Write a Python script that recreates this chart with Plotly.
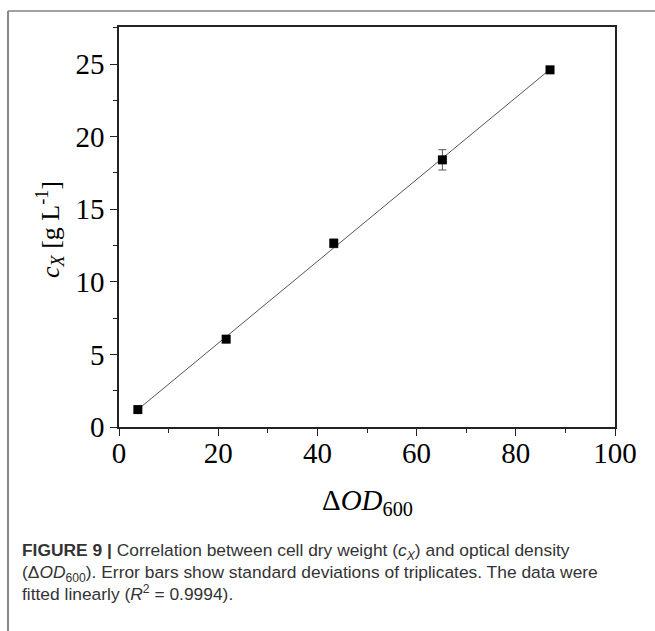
import numpy as np
import plotly.graph_objects as go

# Optical density vs. cell dry weight (triplicate means and standard deviations)
delta_od600 = [3.8, 21.6, 43.3, 65.2, 86.9]
cell_dry_weight = [1.2, 6.05, 12.65, 18.4, 24.6]
cdw_std = [0.15, 0.15, 0.3, 0.7, 0.2]

x_ticks = [0, 20, 40, 60, 80, 100]
y_ticks = [0, 5, 10, 15, 20, 25]

caption_lines = [
    "<b>FIGURE 9 |</b> Correlation between cell dry weight (<i>c</i><sub><i>X</i></sub>) and optical density",
    "(Δ<i>OD</i><sub>600</sub>). Error bars show standard deviations of triplicates. The data were",
    "fitted linearly (<i>R</i><sup>2</sup> = 0.9994).",
]

# Linear fit through the measurements
slope, intercept = np.polyfit(delta_od600, cell_dry_weight, 1)
fit_x = np.array([min(delta_od600), max(delta_od600)])
fit_y = slope * fit_x + intercept

serif = "Liberation Serif"
sans = "Liberation Sans"

fig = go.Figure()

fig.add_trace(go.Scatter(
    x=fit_x, y=fit_y, mode="lines",
    line=dict(color="#555555", width=1),
    hoverinfo="skip", showlegend=False,
))

fig.add_trace(go.Scatter(
    x=delta_od600, y=cell_dry_weight, mode="markers",
    marker=dict(symbol="square", size=9, color="black"),
    error_y=dict(type="data", array=cdw_std, visible=True,
                 color="#555555", thickness=1, width=4),
    showlegend=False,
))

axis_common = dict(
    showgrid=False, zeroline=False,
    showline=True, linecolor="#222222", linewidth=1.6, mirror=True,
    ticks="outside", ticklen=7, tickwidth=1.4, tickcolor="#222222",
    tickfont=dict(family=serif, size=29, color="black"),
)

fig.update_xaxes(
    range=[0, 100], tickvals=x_ticks, ticklabelstandoff=-8,
    minor=dict(ticks="outside", ticklen=4, tickwidth=1.4, tickcolor="#222222", dtick=10),
    **axis_common,
)
fig.update_yaxes(
    range=[0, 27.55], tickvals=y_ticks,
    minor=dict(ticks="outside", ticklen=4, tickwidth=1.4, tickcolor="#222222", dtick=2.5),
    **axis_common,
)

L, T, R, B = 119, 27, 615, 427
W, H = 655, 631
pw, ph = R - L, B - T


def px(x):
    return (x - L) / pw


def py(y):
    return (B - y) / ph


annotations = [
    dict(text="<i>c</i><sub><i>X</i></sub> [g L<sup>-1</sup>]",
         x=px(50), y=py(230), textangle=-90,
         font=dict(family=serif, size=26, color="black")),
    dict(text="Δ<i>OD</i><sub>600</sub>",
         x=px(367), y=py(502),
         font=dict(family=serif, size=29, color="black")),
]
for line, yc in zip(caption_lines, [551, 573, 593]):
    annotations.append(dict(text=line, x=px(20), y=py(yc), xanchor="left",
                            font=dict(family=sans, size=17.4, color="#333333")))

for a in annotations:
    a.update(xref="paper", yref="paper", showarrow=False)
    a.setdefault("xanchor", "center")
    a.setdefault("yanchor", "middle")

shapes = [
    dict(type="line", x0=px(8), x1=px(W), y0=py(11), y1=py(11),
         line=dict(color="#444444", width=1.2)),
    dict(type="line", x0=px(8), x1=px(8), y0=py(11), y1=py(W),
         line=dict(color="#888888", width=2)),
]
for s in shapes:
    s.update(xref="paper", yref="paper", layer="above")

fig.update_layout(
    width=W, height=H,
    margin=dict(l=L, r=W - R, t=T, b=H - B),
    paper_bgcolor="white", plot_bgcolor="white",
    annotations=annotations, shapes=shapes,
)

fig.write_html("out.html", config={"displayModeBar": False})
